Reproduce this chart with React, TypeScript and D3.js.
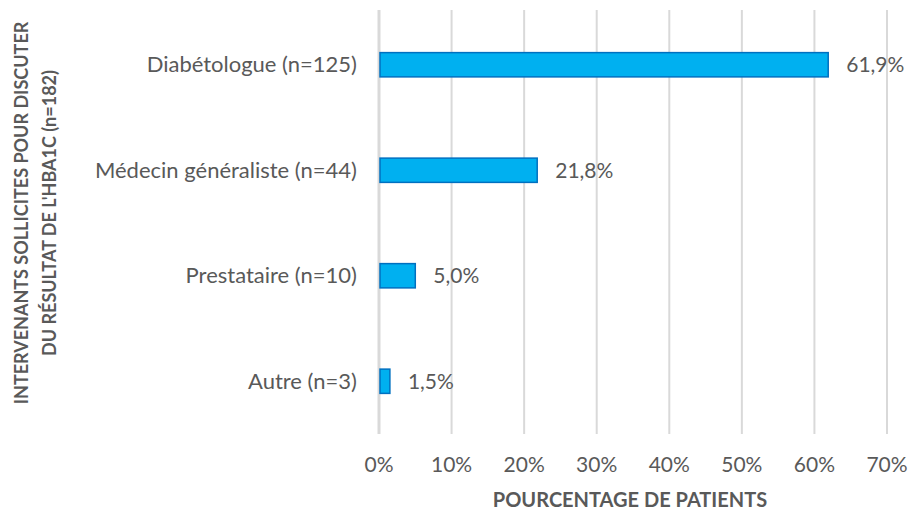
import React, { useEffect, useRef } from 'react';
import * as d3 from 'd3';

const categories = ['Diabétologue (n=125)', 'Médecin généraliste (n=44)', 'Prestataire (n=10)', 'Autre (n=3)'];
const values = [61.9, 21.8, 5.0, 1.5];
const ticks = [0, 10, 20, 30, 40, 50, 60, 70];
const yTitle = ['INTERVENANTS SOLLICITES POUR DISCUTER', "DU RÉSULTAT DE L'HBA1C (n=182)"];
const xTitle = 'POURCENTAGE DE PATIENTS';

const App = () => {
  const svgRef: any = useRef();

  useEffect(() => {
    const width = 909;
    const height = 511;
    const font = 'Lato, "Open Sans", sans-serif';
    const textColor = '#595959';

    const svg = d3.select(svgRef.current)
      .attr('width', width)
      .attr('height', height)
      .style('position', 'absolute')
      .style('left', 0)
      .style('top', 0);
    svg.selectAll('*').remove();

    const x = d3.scaleLinear().domain([0, 70]).range([379, 887]);
    const y = d3.scaleBand().domain(categories).range([12, 434]).paddingInner(0.77).paddingOuter(0.385);

    // gridlines
    svg.append('g')
      .selectAll('line')
      .data(ticks)
      .join('line')
      .attr('x1', d => x(d))
      .attr('x2', d => x(d))
      .attr('y1', 10)
      .attr('y2', 434)
      .attr('stroke', '#d9d9d9')
      .attr('stroke-width', d => (d === 0 ? 3 : 2));

    // bars
    svg.append('g')
      .selectAll('rect')
      .data(values)
      .join('rect')
      .attr('x', x(0) + 1)
      .attr('y', (d, i) => y(categories[i]) as number)
      .attr('width', d => x(d) - x(0) - 1)
      .attr('height', y.bandwidth())
      .attr('fill', '#00b0f0')
      .attr('stroke', '#0070c0')
      .attr('stroke-width', 1.5);

    // value labels
    svg.append('g')
      .selectAll('text')
      .data(values)
      .join('text')
      .attr('x', d => x(d) + 18)
      .attr('y', (d, i) => (y(categories[i]) as number) + y.bandwidth() / 2)
      .attr('dy', '0.35em')
      .attr('font-family', font)
      .attr('font-size', 21)
      .attr('fill', textColor)
      .text(d => d.toFixed(1).replace('.', ',') + '%');

    // category labels
    svg.append('g')
      .selectAll('text')
      .data(categories)
      .join('text')
      .attr('x', 357)
      .attr('y', d => (y(d) as number) + y.bandwidth() / 2)
      .attr('dy', '0.35em')
      .attr('text-anchor', 'end')
      .attr('font-family', font)
      .attr('font-size', 22)
      .attr('fill', textColor)
      .text(d => d);

    // tick labels
    svg.append('g')
      .selectAll('text')
      .data(ticks)
      .join('text')
      .attr('x', d => x(d))
      .attr('y', 465)
      .attr('dy', '0.35em')
      .attr('text-anchor', 'middle')
      .attr('font-family', font)
      .attr('font-size', 21)
      .attr('fill', textColor)
      .text(d => d + '%');

    // x-axis title
    svg.append('text')
      .attr('x', 630)
      .attr('y', 500)
      .attr('dy', '0.35em')
      .attr('text-anchor', 'middle')
      .attr('font-family', font)
      .attr('font-size', 20)
      .attr('font-weight', 'bold')
      .attr('fill', textColor)
      .text(xTitle);

    // y-axis title
    const yt = svg.append('text')
      .attr('transform', 'translate(0, 213) rotate(-90)')
      .attr('text-anchor', 'middle')
      .attr('font-family', font)
      .attr('font-size', 18)
      .attr('font-weight', 'bold')
      .attr('fill', textColor);
    yTitle.forEach((line, i) => {
      yt.append('tspan')
        .attr('x', 0)
        .attr('y', 22 + i * 28)
        .attr('dy', '0.35em')
        .text(line);
    });
  }, []);

  return <svg ref={svgRef}></svg>;
};

export default App;
